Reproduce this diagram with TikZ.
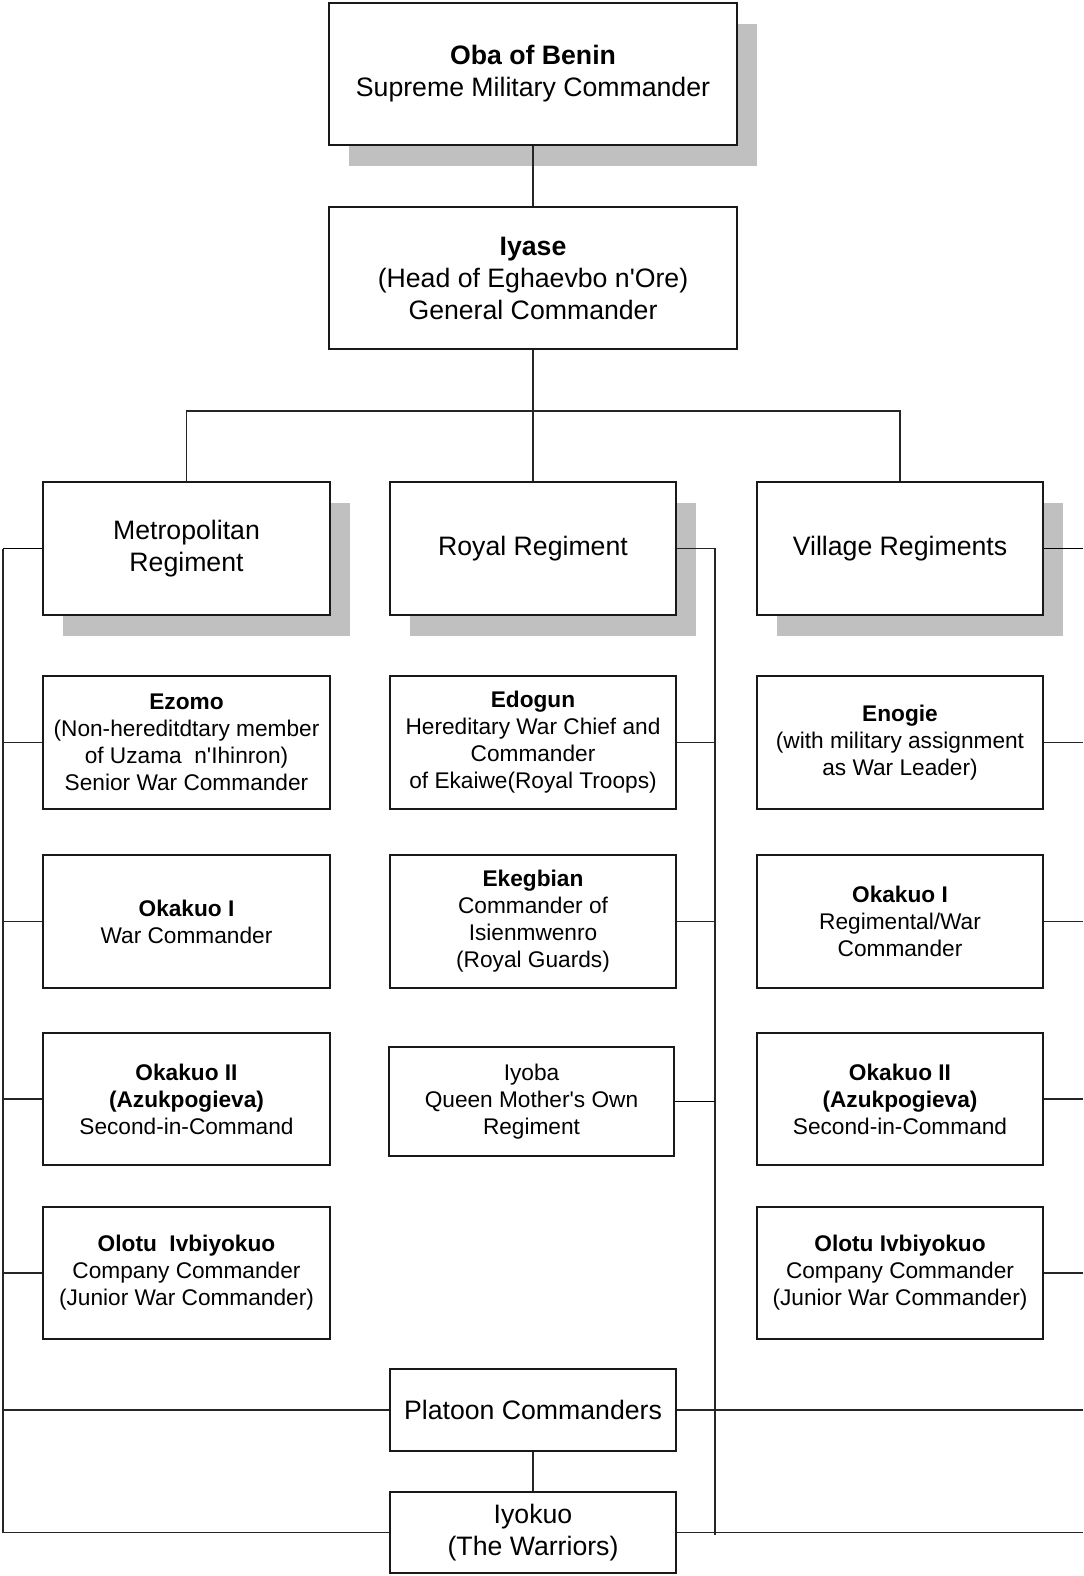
\documentclass[tikz,border=0pt]{standalone}
\usepackage{fontspec}
\setmainfont{Liberation Sans}
\usetikzlibrary{shadows}
\definecolor{shadowgray}{HTML}{C0C0C0}
\newcommand{\bigtxt}{\fontsize{20}{24}\selectfont}
\newcommand{\smalltxt}{\fontsize{17}{20.25}\selectfont}
\begin{document}
\begin{tikzpicture}[x=0.75pt,y=-0.75pt,
  box/.style={draw=black!90,line width=1.3pt,fill=white,inner sep=0pt,align=center,text=black},
  shbox/.style={box,drop shadow={shadow xshift=15pt,shadow yshift=-15.75pt,opacity=1,fill=shadowgray}},
  bigbox/.style={box,font=\bigtxt},
  smbox/.style={box,font=\smalltxt,minimum width=287*0.75pt,minimum height=133*0.75pt},
  conn/.style={draw=black!85,line width=0.9pt},
  thick conn/.style={draw=black,line width=1.4pt}]
\useasboundingbox (0,0) rectangle (1083,1576);

% top
\node[shbox,font=\bigtxt,minimum width=408*0.75pt,minimum height=142*0.75pt] (oba) at (533,74)
  {\textbf{Oba of Benin}\\Supreme Military Commander};
\node[bigbox,minimum width=408*0.75pt,minimum height=142*0.75pt] (iyase) at (533,278)
  {\textbf{Iyase}\\(Head of Eghaevbo n\textquotesingle Ore)\\General Commander};

% regiments
\node[shbox,font=\bigtxt,minimum width=287*0.75pt,minimum height=133*0.75pt] (metro) at (186.5,548.5)
  {Metropolitan\\Regiment};
\node[shbox,font=\bigtxt,minimum width=286*0.75pt,minimum height=133*0.75pt] (royal) at (533,548.5)
  {Royal Regiment};
\node[shbox,font=\bigtxt,minimum width=286*0.75pt,minimum height=133*0.75pt] (village) at (900,548.5)
  {Village Regiments};

% left column
\node[smbox] (ezomo) at (186.5,742.5)
  {\textbf{Ezomo}\\(Non-hereditdtary member\\of Uzama\ \ n\textquotesingle Ihinron)\\Senior War Commander};
\node[smbox] (okaL1) at (186.5,921.5)
  {\textbf{Okakuo I}\\War Commander};
\node[smbox,minimum height=132*0.75pt] (okaL2) at (186.5,1099)
  {\textbf{Okakuo II}\\\textbf{(Azukpogieva)}\\Second-in-Command};
\node[smbox,minimum height=132*0.75pt] (olotuL) at (186.5,1273)
  {\textbf{Olotu\ \ Ivbiyokuo}\\Company Commander\\(Junior War Commander)};

% center column
\node[smbox,minimum width=286*0.75pt] (edogun) at (533,742.5)
  {\textbf{Edogun}\\Hereditary War Chief and\\Commander\\of Ekaiwe(Royal Troops)};
\node[smbox,minimum width=286*0.75pt] (ekeg) at (533,921.5)
  {\textbf{Ekegbian}\\Commander of\\Isienmwenro\\(Royal Guards)};
\node[smbox,minimum width=285*0.75pt,minimum height=109*0.75pt] (iyoba) at (531.5,1101.5)
  {Iyoba\\Queen Mother\textquotesingle s Own\\Regiment};

% right column
\node[smbox,minimum width=286*0.75pt] (enogie) at (900,742.5)
  {\textbf{Enogie}\\(with military assignment\\as War Leader)};
\node[smbox,minimum width=286*0.75pt] (okaR1) at (900,921.5)
  {\textbf{Okakuo I}\\Regimental/War\\Commander};
\node[smbox,minimum width=286*0.75pt,minimum height=132*0.75pt] (okaR2) at (900,1099)
  {\textbf{Okakuo II}\\\textbf{(Azukpogieva)}\\Second-in-Command};
\node[smbox,minimum width=286*0.75pt,minimum height=132*0.75pt] (olotuR) at (900,1273)
  {\textbf{Olotu Ivbiyokuo}\\Company Commander\\(Junior War Commander)};

% bottom
\node[bigbox,minimum width=286*0.75pt,minimum height=82*0.75pt] (platoon) at (533,1410)
  {Platoon Commanders};
\node[bigbox,minimum width=286*0.75pt,minimum height=81*0.75pt] (iyokuo) at (533,1532.5)
  {Iyokuo\\(The Warriors)};

% coordinates
\coordinate (bus) at (533,411);
\coordinate (Ltop) at (3,548.5);
\coordinate (Lbot) at (3,1532.5);
\coordinate (Ctop) at (715,548.5);
\coordinate (Cbot) at (715,1535);
\coordinate (R) at (1083,0);

% top connectors
\draw[conn] (oba.south) -- (iyase.north);
\draw[conn] (iyase.south) -- (bus);
\draw[conn] (metro.north) |- (bus) -| (village.north);
\draw[conn] (bus) -- (royal.north);

% left bus
\draw[thick conn] (metro.west) -- (Ltop);
\draw[conn] (Ltop) -- (Lbot) -- (iyokuo.west);
\foreach \n in {ezomo,okaL1,okaL2,olotuL,platoon}
  \draw[conn] (\n.west -| Ltop) -- (\n.west);

% center bus
\draw[conn] (royal.east) -- (Ctop) -- (Cbot);
\foreach \n in {edogun,ekeg}
  \draw[conn] (\n.east) -- (\n.east -| Ctop);
\draw[thick conn] (iyoba.east) -- (iyoba.east -| Ctop);

% right stubs
\draw[thick conn] (village.east) -- (village.east -| R);
\foreach \n in {enogie,okaR1,okaR2,olotuR,platoon,iyokuo}
  \draw[conn] (\n.east) -- (\n.east -| R);
\draw[conn] (platoon.south) -- (iyokuo.north);
\end{tikzpicture}
\end{document}
